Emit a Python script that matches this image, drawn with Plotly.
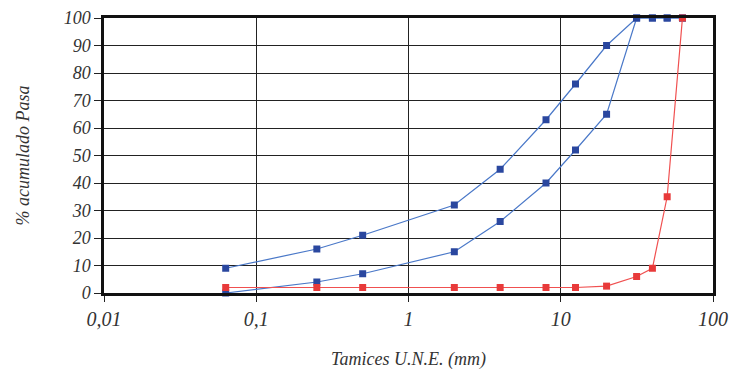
import plotly.graph_objects as go

sieves = [0.063, 0.25, 0.5, 2, 4, 8, 12.5, 20, 31.5, 40, 50, 63]
upper_blue = [9, 16, 21, 32, 45, 63, 76, 90, 100, 100, 100, 100]
lower_blue = [0, 4, 7, 15, 26, 40, 52, 65, 100, 100, 100, 100]
red_curve = [2, 2, 2, 2, 2, 2, 2, 2.5, 6, 9, 35, 100]

x_tickvals = [0.01, 0.1, 1, 10, 100]
x_ticktext = ["0,01", "0,1", "1", "10", "100"]
y_tickvals = [0, 10, 20, 30, 40, 50, 60, 70, 80, 90, 100]

font_family = "Liberation Serif"

fig = go.Figure()

def add(y, line_color, marker_color):
    fig.add_trace(go.Scatter(
        x=sieves, y=y, mode="lines+markers",
        line=dict(color=line_color, width=1.2),
        marker=dict(symbol="square", size=7, color=marker_color),
        showlegend=False, cliponaxis=False,
    ))

add(upper_blue, "#4a78c8", "#2a479f")
add(lower_blue, "#4a78c8", "#2a479f")
add(red_curve, "#f05050", "#e83a3a")

fig.update_layout(
    width=745, height=382,
    margin=dict(l=104, r=32, t=18, b=89),
    paper_bgcolor="white", plot_bgcolor="white",
    showlegend=False,
    font=dict(family=font_family, color="#333333"),
)

fig.update_xaxes(
    type="log", range=[-2, 2], automargin=False,
    tickvals=x_tickvals, ticktext=x_ticktext,
    showgrid=True, gridcolor="#222222", gridwidth=1.2,
    ticks="outside", ticklen=6, tickcolor="#222222",
    showline=True, linecolor="#111111", linewidth=2.5, mirror=True,
    tickfont=dict(family=font_family, size=20, style="italic", color="#333333"),
    title=dict(text="Tamices U.N.E. (mm)", standoff=24,
               font=dict(family=font_family, size=18, style="italic", color="#333333")),
    zeroline=False,
)

fig.update_yaxes(
    range=[0, 100], automargin=False,
    tickvals=y_tickvals,
    showgrid=True, gridcolor="#222222", gridwidth=1.2,
    ticks="outside", ticklen=7, tickcolor="#222222",
    ticksuffix="\u2009",
    showline=True, linecolor="#111111", linewidth=2.5, mirror=True,
    tickfont=dict(family=font_family, size=18, style="italic", color="#333333"),
    title=dict(text="% acumulado Pasa", standoff=30,
               font=dict(family=font_family, size=18, style="italic", color="#333333")),
    zeroline=False,
)

fig.write_html("out.html")
